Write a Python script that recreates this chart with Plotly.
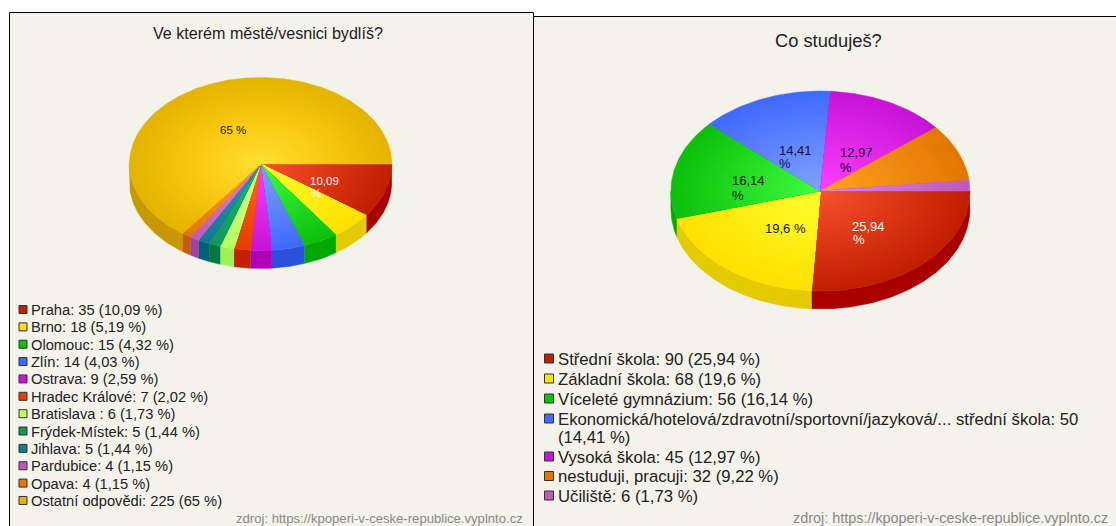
import numpy as np
import plotly.graph_objects as go

# ---------- data ----------
title_left = "Ve kterém městě/vesnici bydlíš?"
categories_left = ["Praha", "Brno", "Olomouc", "Zlín", "Ostrava", "Hradec Králové", "Bratislava ",
                   "Frýdek-Místek", "Jihlava", "Pardubice", "Opava", "Ostatní odpovědi"]
values_left = [35, 18, 15, 14, 9, 7, 6, 5, 5, 4, 4, 225]
percents_left = ["10,09", "5,19", "4,32", "4,03", "2,59", "2,02", "1,73", "1,44", "1,44", "1,15", "1,15", "65"]

title_right = "Co studuješ?"
categories_right = ["Střední škola", "Základní škola", "Víceleté gymnázium",
                    "Ekonomická/hotelová/zdravotní/sportovní/jazyková/... střední škola",
                    "Vysoká škola", "nestuduji, pracuji", "Učiliště"]
values_right = [90, 68, 56, 50, 45, 32, 6]
percents_right = ["25,94", "19,6", "16,14", "14,41", "12,97", "9,22", "1,73"]

source_text = "zdroj: https://kpoperi-v-ceske-republice.vyplnto.cz"

# ---------- colours: (edge, centre, wall, optional mid) ----------
RED = ("#C11F00", "#FA5232", "#A80000")
YEL = ("#FFE000", "#FFFF2E", "#E3CB00")
GRN = ("#0CC00C", "#40FF40", "#00A800")
BLU = ("#4169FF", "#82A4FF", "#2A50DC")
PUR = ("#C814D8", "#FF40FF", "#AF00B8")
HRA = ("#E83C00", "#FF6A24", "#C42000")
BRA = ("#B8FF60", "#D8FF90", "#A0F058")
FRY = ("#0E9A5A", "#22B572", "#007A42")
JIH = ("#117A94", "#3494B2", "#006078")
PAR = ("#BC5BBC", "#E484E4", "#A040A0")
OPA = ("#E47700", "#FFA424", "#C85A00")
OST = ("#E4B400", "#FFE233", "#C89800", "#FBC912")
colors_left = [RED, YEL, GRN, BLU, PUR, HRA, BRA, FRY, JIH, PAR, OPA, OST]
colors_right = [RED, YEL, GRN, BLU, PUR, OPA, PAR]

BG = "#F4F3EB"
FONT = "Liberation Sans, Arial, sans-serif"
N_BANDS = 26
DEG_STEP = 1.0


def hex2rgb(h):
    return np.array([int(h[i:i + 2], 16) for i in (1, 3, 5)], float)


def shade(col, t):
    if len(col) > 3:
        if t < 0.5:
            a, b, u = col[1], col[3], t * 2
        else:
            a, b, u = col[3], col[0], (t - 0.5) * 2
    else:
        a, b, u = col[1], col[0], t
    c = hex2rgb(a) * (1 - u) + hex2rgb(b) * u
    return "rgb(%d,%d,%d)" % tuple(np.round(c))


def arc(a0, a1):
    n = max(2, int(abs(a1 - a0) / DEG_STEP) + 2)
    return np.radians(np.linspace(a0, a1, n))


def add_pie(fig, values, colors, cx, cy, rx, ry, depth):
    v = np.array(values, float)
    edges = np.concatenate([[0], np.cumsum(v)]) / v.sum() * 360
    # walls
    for a0, a1, col in zip(edges[:-1], edges[1:], colors):
        lo, hi = max(a0, 0), min(a1, 180)
        if hi <= lo:
            continue
        t = arc(lo, hi)
        x = cx + rx * np.cos(t)
        y = cy + ry * np.sin(t)
        fig.add_trace(go.Scatter(
            x=np.concatenate([x, x[::-1]]),
            y=np.concatenate([y, y[::-1] + depth]),
            mode="lines", fill="toself", fillcolor=col[2],
            line=dict(color=col[2], width=0.5), hoverinfo="skip"))
    # top surface with radial shading
    for a0, a1, col in zip(edges[:-1], edges[1:], colors):
        t = arc(a0, a1)
        for b in range(N_BANDS, 0, -1):
            f = b / N_BANDS
            c = shade(col, f)
            fig.add_trace(go.Scatter(
                x=np.concatenate([[cx], cx + f * rx * np.cos(t), [cx]]),
                y=np.concatenate([[cy], cy + f * ry * np.sin(t), [cy]]),
                mode="lines", fill="toself", fillcolor=c,
                line=dict(color=c, width=0.5 if b == N_BANDS else 0),
                hoverinfo="skip"))


fig = go.Figure()
add_pie(fig, values_left, colors_left, 260.6, 164, 131.2, 86.5, 18)
add_pie(fig, values_right, colors_right, 820.4, 191, 149.5, 100, 18)


def text(x, y, s, fs, col="#222222", anchor="left"):
    fig.add_annotation(x=x, y=y, text=s, xanchor=anchor, yanchor="middle", align="left",
                       showarrow=False, borderpad=0, borderwidth=0,
                       font=dict(family=FONT, size=fs, color=col))


def legend(items, colors, x_sq, size, x_txt, ys, fs):
    for s, col, y in zip(items, colors, ys):
        fig.add_shape(type="rect", x0=x_sq, x1=x_sq + size, y0=y - 0.5 - size / 2, y1=y - 0.5 + size / 2,
                      fillcolor=col[0], line=dict(color="#333333", width=1))
        text(x_txt, y, s, fs)


# frames
fig.add_shape(type="rect", x0=9.5, x1=533.5, y0=12.5, y1=540, fillcolor=BG,
              line=dict(color="black", width=1), layer="below")
fig.add_shape(type="rect", x0=533.5, x1=1130, y0=16.5, y1=540, fillcolor=BG,
              line=dict(color="black", width=1), layer="below")

items_left = [f"{c}: {v} ({p} %)" for c, v, p in zip(categories_left, values_left, percents_left)]
items_right = [f"{c}: {v} ({p} %)" for c, v, p in zip(categories_right, values_right, percents_right)]
first, second = items_right[3].split(" (")
items_right[3] = first

legend(items_left, colors_left, 19, 8, 30.5, [310 + 17.36 * i for i in range(12)], 14.7)
legend(items_right, colors_right, 544.5, 9, 558, [359, 379, 399, 419, 457, 476.5, 496], 16.7)
text(558, 437, "(" + second, 16.7)

# titles
text(267.5, 33, title_left, 16.1, anchor="center")
text(828, 40, title_right, 18.3, anchor="center")

# slice labels, one line at a time
pie_labels = [
    ("65 %", 220, 130, "#1a1400", 11.5),
    ("10,09", 310, 181, "#ffffff", 11.5),
    ("%", 311, 192.5, "#ffffff", 11.5),
    ("14,41", 778.5, 150, "#101040", 13),
    ("%", 778.5, 163.5, "#101040", 13),
    ("12,97", 839.5, 152, "#200030", 13),
    ("%", 839.5, 167, "#200030", 13),
    ("16,14", 732, 180, "#002000", 13),
    ("%", 732, 195, "#002000", 13),
    ("19,6 %", 765, 228, "#202000", 13),
    ("25,94", 852, 226, "#ffffff", 13),
    ("%", 853, 239.5, "#ffffff", 13),
]
for s, x, y, col, fs in pie_labels:
    text(x, y, s, fs, col)

# source lines
text(236, 518.5, source_text, 13.1, "#888888")
text(793, 517.5, source_text, 14.4, "#888888")

fig.update_layout(
    width=1116, height=526, margin=dict(l=0, r=0, t=0, b=0),
    paper_bgcolor="white", plot_bgcolor="white", showlegend=False, hovermode=False,
    xaxis=dict(range=[0, 1116], visible=False, fixedrange=True),
    yaxis=dict(range=[526, 0], visible=False, fixedrange=True),
)
fig.write_html("out.html", config={"displayModeBar": False},
               post_script="document.body.style.margin='0';document.documentElement.style.overflow='hidden';")
